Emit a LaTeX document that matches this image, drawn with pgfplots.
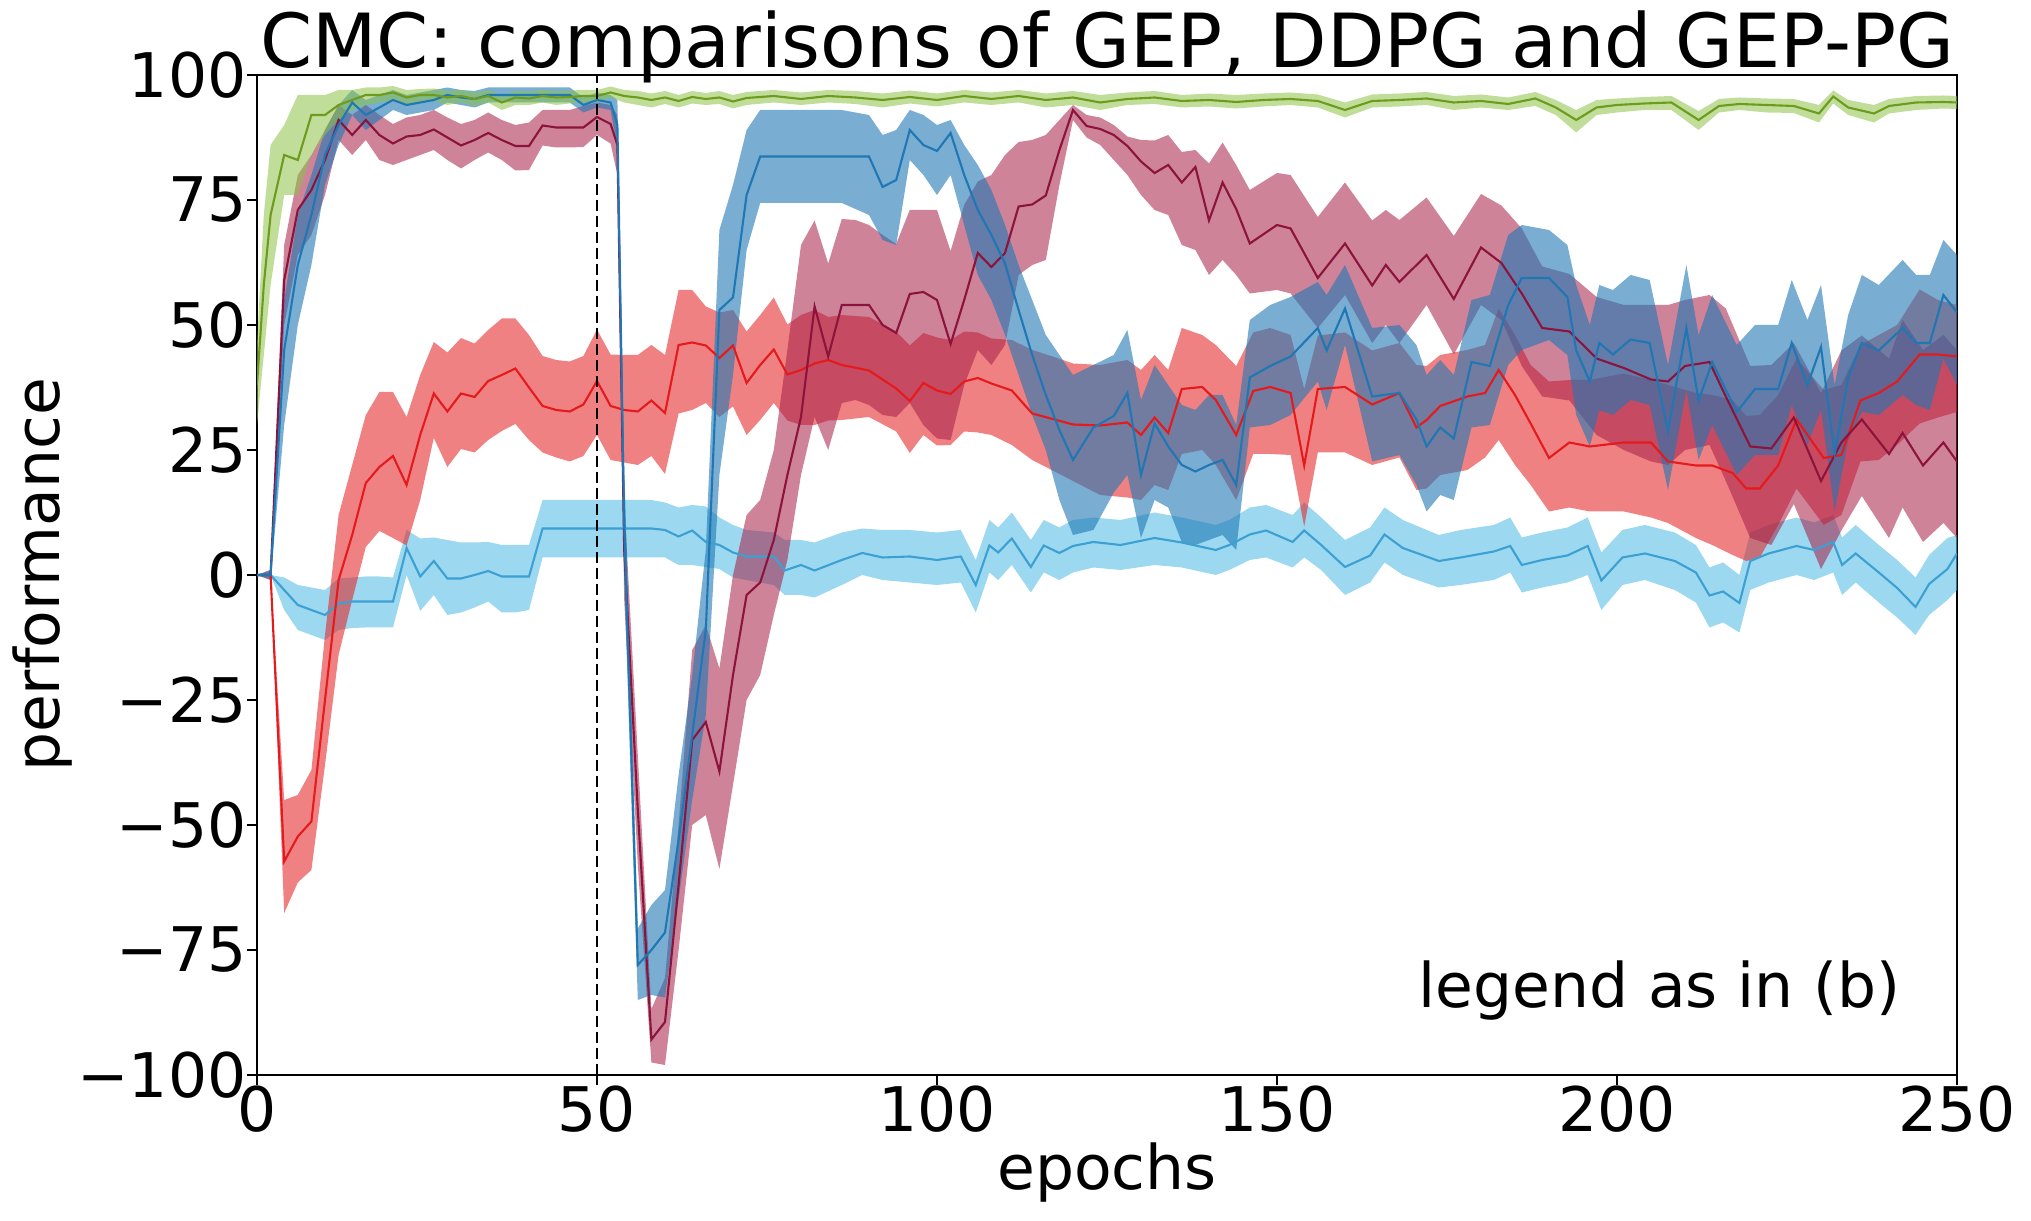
\documentclass[border=0pt]{standalone}
\usepackage{pgfplots}
\pgfplotsset{compat=1.18}
\usepackage{pgfplotstable}
\usepgfplotslibrary{fillbetween}
\usepackage{fontspec}
\setmainfont{DejaVu Sans}

\definecolor{gband}{RGB}{140,195,70}
\definecolor{gline}{RGB}{110,155,30}
\definecolor{bband}{RGB}{31,119,180}
\definecolor{bline}{RGB}{31,119,180}
\definecolor{dband}{RGB}{165,30,70}
\definecolor{dline}{RGB}{140,20,60}
\definecolor{rband}{RGB}{228,26,28}
\definecolor{rline}{RGB}{228,26,28}
\definecolor{sband}{RGB}{90,190,230}
\definecolor{sline}{RGB}{60,160,210}

\pgfplotstableread{
x m lo hi
0 38 30 46
1 58 44 72
2 72 58 86
4 84 76 90
6 83 76 96
8 92 84 96
10 92 88 96
12 94 91 97
14 95 93 97
16 96 94 97.5
18 96 94.5 97.5
20 96.5 95 97.8
22 95.5 94 97
24 96 94.5 97.2
26 96 94.8 97.3
28 95.5 94 96.8
30 95.8 94.5 97
32 95.2 93.8 96.5
34 95.8 94.5 97
36 94.5 93 96
38 95.5 94 96.8
40 95.3 94 96.7
42 95.8 94.5 97
44 95.5 94 96.8
46 95.6 94.3 96.9
48 95.8 94.5 97
50 95.8 94.5 97
52 96.5 95.5 97.7
54 95.8 94.5 97
56 95.5 94 96.8
58 95.0 93.5 96.3
60 95.5 94.2 96.8
62 94.8 93.5 96
64 95.6 94.3 96.8
66 95.2 94 96.4
68 95.5 94.2 96.8
70 94.7 93.3 96
72 95.4 94 96.6
76 95.8 94.5 97
80 95.2 94 96.5
84 95.8 94.5 97
88 95.5 94.2 96.8
92 95 93.5 96.3
96 95.6 94.3 96.9
100 95 93.7 96.3
104 95.8 94.5 97
108 95.2 94 96.5
112 95.8 94.5 97
116 95 93.5 96.3
120 95.5 94 96.8
124 94.5 93 96
128 95.2 94 96.5
132 95.5 94.2 96.8
136 94.8 93.5 96
140 95 93.7 96.3
144 94.6 93.3 96
148 95 93.7 96.3
152 95.2 94 96.5
156 94.8 93.5 96.1
160 93 91.5 94.5
164 94.8 93.5 96.1
168 95 93.7 96.3
172 95.3 94 96.6
176 94.5 93 95.8
180 94.8 93.5 96.1
184 94.2 93 95.5
188 95.3 93.8 96.6
191 93.5 92 95
194 91 88.5 93
197 93.5 92 95
200 94 92.5 95.3
204 94.3 93 95.6
208 94.5 93 95.8
212 91 89 92.8
215 93.8 92.5 95.2
218 94.2 93 95.5
222 94 92.5 95.3
226 93.8 92.4 95.2
229.7 92.3 90.5 94
231.8 95.7 94.3 96.9
234 93.5 92 95
237.8 92.3 90.5 94
240 93.8 92.3 95.2
244 94.5 93 95.8
248 94.6 93.3 95.9
250 94.5 93.2 95.8
}\Gdata

\pgfplotstableread{
x m lo hi
0 0 0 0
2 0 -1 1
4 45 30 55
6 62 50 72
8 72 62 80
10 84 78 89
12 90 86 94
14 94.5 92 97
16 92 89 95
18 93.5 91 96
20 95 93 97
22 94 92 96
24 94.5 92.5 96.5
26 95 93 97
28 96 94.5 97.5
30 95.5 94 97
32 95.2 93.5 96.8
34 96 94.5 97.5
38 96 94.5 97.5
42 96 94.5 97.5
46 96 94.5 97.5
48 94 92.5 95.5
50 95 93.5 96.5
52 94.5 93 96
53 90 85 95
54 10 0 22
56 -78 -85 -70.7
58 -75 -84 -66
60 -71.5 -84.5 -63
62 -53 -65 -40
64 -32 -45 -20
66 -11 -28 5
68 53 20 69
70 55.5 40 78
72 76 65 89
74 83.7 74.4 93
78 83.7 74.4 93
82 83.7 74.4 93
86 83.7 74.4 93
90 83.7 72 92
92 77.6 67 88
94 79 66 89
96 89 83 93
98 86 80 92
100 84.8 76 90
102 88.4 80 91
104 80 70 86
106 73 60 82
108 68 55 77
110 62.3 48 70
112 53 40 62
114 44 32 55
116 36 25 48
118 29 15 44
120 23 8 40
123 29.5 9 42
126 31.8 16.5 44
128 36.4 20 49
130 20 7.4 35
132 30.3 15 42
134 25.7 13.5 38
136 22 6.6 34
138 20.7 6 33
140 22 7 36
142 23 8 36
144 18 5 30
146 39.5 29.5 51
149 41.8 30 54
152 43.7 32 55.6
156 49.4 38.7 58.6
157.3 44.9 33 56
160 53.3 46 62
164 35.7 22.7 49.4
168 36.4 24 50
170.5 31.1 18 46
172 25.7 12.7 40
174 29.5 16 43
176 27.3 15 40
178.6 42.6 29.5 55
181.3 41.8 30 56
184 54 42 68
186 59.4 45 70
190 59.4 47 69
192.7 55.6 44 66
194 44.9 32 58
196 38.7 25.7 50
197.4 46.4 33 58
199.4 44.1 32 57
202 47.1 35 60
204.8 46.4 34 59
207.5 28.8 17 42
210.2 49.4 37 62
212 34.9 23 48
214 42.6 30 56
217.6 32.6 20 46
220.3 37.2 24 50
223.7 37.2 24 50
225.7 46.4 34 59
228 38 26 51
230 45.6 33 58
232 24.2 12.7 38
234 39.5 27 52
236 46.4 32.6 60
238.5 44.9 32 58
242 49.4 36 63
244 46.4 34 60
246 46.4 33 60
248 56 43.3 67
250 52.5 38 64
}\Bdata

\pgfplotstableread{
x m lo hi
0 0 0 0
2 0 -1 1
4 59 50 66
6 73 64 80
8 77 68 84
10 83 76 89
12 91 87 94
14 88 84 92
16 91 87 94
18 88 83 92
20 86.3 82 90.2
22 87.7 83 91.5
24 88 84 92
26 89.1 85 93
28 87.5 83 91.5
30 85.9 81.3 90.2
32 87 83 91
34 88.4 84.5 92.5
36 87 83 91
38 85.8 80.9 90
40 85.8 81 90.5
42 89.9 85.9 93
44 89.5 85.5 93
46 89.5 85.5 93
48 89.5 85.6 93.8
50 91.6 88 94.5
52 90.2 86.3 94
53 86 80 92
54 5 -5 15
56 -47 -58 -36
58 -92.9 -97.5 -86.8
60 -89.4 -98 -80.6
62 -62 -75 -50
64 -33 -50 -15
66 -29.4 -48 -10
68 -39.3 -58.8 -18.7
70 -20 -42 0
72 -4 -25 12
74 -1.5 -20 15
76 7 -8 25
78 20 3 45
80 31.6 20 66
82 53.7 31.6 70.9
84 43.7 25 62.3
86 54 34.4 71.2
88 54 35 71
90 54 34 70
92 50 32 68
94 48.4 31.6 66.2
96 56.2 34.4 73
98 56.6 30 73
100 55 27.3 73
102 46.2 27 64.8
104 55 38 74
106 64.4 45 78.7
108 61.6 42 80
110 64.4 46 84
112 73.7 60 86.6
114 74.1 62 87
116 75.9 63 88
118 85 78 91
120 93 91 94
122 89.8 87.5 92
124 89.2 86 91.5
126 88 83 90
128 85.8 80 87.7
130 82.7 76 87
132 80.4 73 86.9
134 82 72 88
136 78.5 66 84.6
138 81.6 65 85
140 70.9 60 82.3
142 78.5 63 86.5
144 73.2 60 82
146 66.3 56.3 77
150 70 57 80.4
152 69.3 56.3 80
156 59.4 49.4 71.6
160 66.3 56 78.5
164 57.9 46.4 70.9
166 62 50 73
168 58.6 46.4 71
172 64 54 75.5
176 55.2 44.1 67.8
180 65.5 54 76.2
183 62.4 51 73.9
186 56.3 41.8 69.3
189 49.4 35.7 61.7
193 48.7 34.9 60.2
197 43.3 28 55.6
201 41.4 25 54
205 39.1 22.7 54
207.5 38.7 22 54
210 41.8 25 55
213.6 42.6 26 56
216 35.7 18.8 53.3
219.6 25.7 7.4 41.8
222.7 25.3 6 42
226 31.5 14.2 46.4
230 18.8 1.2 36.4
233 26.5 8.9 44.9
236 31.1 15.8 47.9
240 24.2 7.4 43.3
242 28.4 13.5 51
245 21.9 6.6 45
248 26.5 10.4 48
250 22.7 7.4 45
}\Ddata

\pgfplotstableread{
x m lo hi
0 0 0 0
2 0 0 0
4 -57.3 -67.6 -45
6 -52.3 -61.5 -44
8 -49.3 -59 -39
10 -25 -38 -12
12 -1 -16 12
14 8 -5 22
16 18.4 5.6 32
18 21.6 8.8 36.6
20 23.8 7.4 36.6
22 18 5.9 31.6
24 28 15 40
26 36.3 27.4 46.6
28 32.7 21.6 44.5
30 36.3 25.2 47.4
32 35.6 24.5 46.3
34 38.8 27 49
36 40 28.8 51.3
38 41.3 30.2 51.3
40 37.5 27 48
42 33.8 24.5 43.8
44 33 23.5 43
46 32.7 22.7 42.7
48 34.1 23.8 43.8
50 38.8 28 49.1
52 33.8 23 44.1
54 33 22.5 44
56 32.7 22 44
58 34.9 23.8 46
60 32.4 20.2 44
62 46 32.3 57
64 46.5 33 57
66 45.9 34.4 53.7
68 43.4 31.6 52.5
70 45.9 33.7 53
72 38.4 28 48.7
74 42 31 52
76 45.1 34.4 55.5
78 40.1 30.9 50.1
80 41 30 52
82 42.3 30 53
84 43 30.9 51.6
86 42 31 52
90 40.9 31.6 51.6
94 37.3 28.7 48.7
96 34.8 24.4 45.9
98 38.4 28 48.4
100 36.9 25.9 47.5
102 36.2 26 47
104 38.7 28.7 48.7
106 39.4 28.5 48.5
108 38.3 28 47.3
111 36.9 26 47
114 32.3 23 45
117 31.2 20.9 43.7
120 30.1 18.8 42.3
124 29.9 16 42
128 30.5 15.5 43
130 28 15 41
132 31.5 18 44
134 28.4 17 41
136 37.2 24.2 49.4
139 37.6 25 48
141 35 22 46
144 28 15 41.8
146.5 36.8 24.2 48.5
149 37.6 24.2 49.4
152 36.4 24 48
154 21.9 9.7 37.2
156 37.2 24.5 47.9
160 37.6 24.5 48.5
164 34.1 22 44.9
168 36.4 23.5 46.4
170.5 29.5 17 42
172 31 17.3 41.8
174 33.8 20 44
178 35.7 21 45
180.6 36.4 23.5 46
182.6 41 27 53.3
185 36 22 48
187.3 30.3 18 42
190 23.4 12.7 38.7
193 26.5 13.5 39
196 25.7 12.7 39
201 26.5 12.7 40.3
205 26.5 11.5 39
207.5 22.7 10.4 38
211.6 21.9 7.4 36.4
214 21.9 6 36
217 20.4 4 35
219 17.3 2.8 31.8
221 17.3 3.5 32
223.7 21.9 10 36
226.4 31.1 17.3 43.3
230.4 23.4 10 37
233 24 12 38
235.8 34.9 22.7 46
238.5 36.4 23 48
241.2 38.7 26 50
244.5 44.1 30.3 57.1
247.2 44.1 31.5 55
250 43.7 32.6 54
}\Rdata

\pgfplotstableread{
x m lo hi
0 0 0 0
2 0 0 0
4 -3 -7 -0.5
6 -6 -11 -2
8 -7 -12 -2.5
10 -8 -13 -3
12 -5.7 -11 -0.7
14 -5.3 -10.6 -0.5
16 -5.3 -10.5 -0.3
18 -5.3 -10.5 -0.3
20 -5.3 -10.5 -0.5
22 5.4 0 9
24 -0.3 -7.2 7.3
26 2.8 -4 7.5
28 -0.7 -8 7
30 -0.7 -7.5 6.5
32 0 -6.5 6.5
34 0.8 -5.3 6.6
36 -0.3 -7.5 6
38 -0.3 -7.5 6
40 -0.3 -7 6
42 9.3 3.5 15
46 9.3 3.5 15
50 9.3 3.5 15
54 9.3 3.5 15
58 9.3 3.5 15
60 9 3.5 14.5
62 7.7 2 13.5
64 8.9 2 14
66 6.6 1.6 13.7
68 6 1.2 11.5
70 4.5 -0.5 10
72 3.7 -1 9
76 3.7 -2 8.5
77.6 0.9 -4 7
80 2 -4 7
82 0.9 -4.5 6.5
86 3 -2 8.5
89 4.4 0 9.3
92 3.5 -1 9
96 3.7 -1.5 9
100 3 -2 8.5
103.5 3.7 -1.5 9
105.7 -2 -7.5 3
107.7 5.9 0.5 11
109 4.5 -1 9.5
111 7.3 2 12.5
113.8 1.6 -3.5 7
115.7 5.9 0.5 11
118 4.4 -1 9.5
120 5.8 0.5 11
123 6.6 1.5 11.5
127 6 1 11
132 7.4 2 12.5
136 6.5 1.5 11.5
141 5 0 10
143 6 1 11
146 8.1 3 13.5
148.4 8.9 3.5 14
152.3 6.6 1.5 12
154 8.9 3.5 14.5
156.5 6 1 11.5
160 1.6 -4 7
163.7 3.9 -1.5 9.5
165.8 8.1 2.5 13.5
168.5 5.4 0 11
173.8 2.8 -2.5 8
177 3.5 -2 9
181.9 4.7 -1 10
184.3 5.8 0.5 11.5
186 2 -3.5 7.5
189 3 -2.5 8.5
192.7 3.9 -1.5 9.5
195.7 5.8 0 11.5
197.7 -1.1 -7 4.5
200.8 3.5 -2 9
204.1 4.3 -1 10
208.5 2.8 -3 8.5
211.6 0.5 -5.5 6
213.6 -4.1 -10.5 1.5
215.6 -3.3 -9.5 2.5
218 -5.6 -11.5 0
219.6 2.8 -3 8.5
222.3 4.3 -1.5 10
226.4 5.8 0 11.5
229 5 -1 10.5
231.8 6.6 0.5 12
233.1 2 -4 7.5
235.1 4.3 -1.5 10
238.5 0.5 -5.5 6
241.2 -2.6 -8.5 3
243.9 -6.4 -12 -0.5
245.9 -1.8 -8 4
248.6 1.2 -5 7.4
250 4.3 -3 8
}\Sdata

\newcommand{\tickfont}{\fontsize{17.5}{21}\selectfont}

\begin{document}
\begin{tikzpicture}
\begin{axis}[
  at={(0,0)}, anchor=south west,
  scale only axis, width=17cm, height=10cm,
  xmin=0, xmax=250, ymin=-100, ymax=100,
  xtick={0,50,100,150,200,250},
  xticklabels={0,50,100,150,200,250},
  ytick={-100,-75,-50,-25,0,25,50,75,100},
  yticklabels={−100,−75,−50,−25,0,25,50,75,100},
  xtick pos=bottom, ytick pos=left,
  tick align=outside, major tick length=0.1cm,
  tick style={black, line width=0.6pt},
  axis line style={black, line width=0.6pt},
  xticklabel style={font=\tickfont, inner sep=0pt, anchor=north},
  yticklabel style={font=\tickfont, inner sep=0pt, anchor=east},
  clip=true,
]
% GEP (sky blue)
\addplot[name path=Su, draw=none, forget plot] table[x=x,y=hi]{\Sdata};
\addplot[name path=Sl, draw=none, forget plot] table[x=x,y=lo]{\Sdata};
\addplot[fill=sband, fill opacity=0.6, draw=none] fill between[of=Su and Sl];
\addplot[sline, line width=0.6pt] table[x=x,y=m]{\Sdata};
% red
\addplot[name path=Ru, draw=none, forget plot] table[x=x,y=hi]{\Rdata};
\addplot[name path=Rl, draw=none, forget plot] table[x=x,y=lo]{\Rdata};
\addplot[fill=rband, fill opacity=0.55, draw=none] fill between[of=Ru and Rl];
\addplot[rline, line width=0.6pt] table[x=x,y=m]{\Rdata};
% dark red
\addplot[name path=Du, draw=none, forget plot] table[x=x,y=hi]{\Ddata};
\addplot[name path=Dl, draw=none, forget plot] table[x=x,y=lo]{\Ddata};
\addplot[fill=dband, fill opacity=0.55, draw=none] fill between[of=Du and Dl];
\addplot[dline, line width=0.6pt] table[x=x,y=m]{\Ddata};
% blue
\addplot[name path=Bu, draw=none, forget plot] table[x=x,y=hi]{\Bdata};
\addplot[name path=Bl, draw=none, forget plot] table[x=x,y=lo]{\Bdata};
\addplot[fill=bband, fill opacity=0.6, draw=none] fill between[of=Bu and Bl];
\addplot[bline, line width=0.6pt] table[x=x,y=m]{\Bdata};
% green
\addplot[name path=Gu, draw=none, forget plot] table[x=x,y=hi]{\Gdata};
\addplot[name path=Gl, draw=none, forget plot] table[x=x,y=lo]{\Gdata};
\addplot[fill=gband, fill opacity=0.55, draw=none] fill between[of=Gu and Gl];
\addplot[gline, line width=0.6pt] table[x=x,y=m]{\Gdata};
% vertical dashed line
\addplot[black, line width=0.6pt, dash pattern=on 0.11cm off 0.05cm] coordinates {(50,-100) (50,100)};
\end{axis}
\node[anchor=base, font=\fontsize{21.25}{25}\selectfont] at (8.5,10.07) {CMC: comparisons of GEP, DDPG and GEP-PG};
\node[anchor=base, font=\tickfont, inner sep=0pt] at (8.5,-1.15) {epochs};
\node[anchor=base, rotate=90, font=\tickfont, inner sep=0pt] at (-1.97,5) {performance};
\node[anchor=base west, font=\tickfont, inner sep=0pt] at (11.61,0.67) {legend as in (b)};
\pgfresetboundingbox
\path[use as bounding box] (-2.57,-1.46) rectangle (17.74,10.75);
\end{tikzpicture}
\end{document}
